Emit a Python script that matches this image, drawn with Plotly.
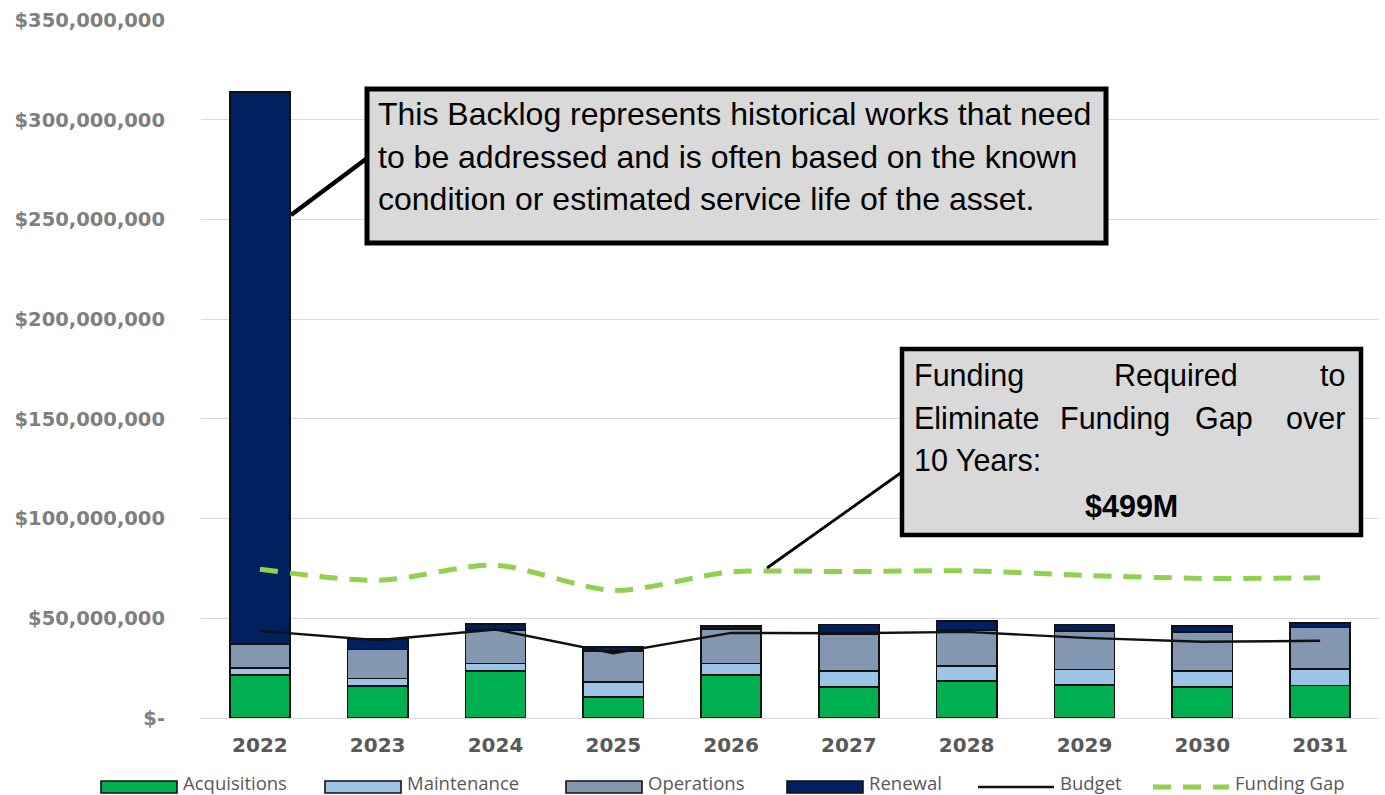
import plotly.graph_objects as go

# ---- data (values in $ millions) ----
years = ["2022", "2023", "2024", "2025", "2026", "2027", "2028", "2029", "2030", "2031"]
acquisitions = [21.6, 16.0, 23.6, 10.4, 21.6, 15.4, 18.6, 16.5, 15.4, 16.2]
maintenance = [3.6, 3.9, 3.8, 7.8, 5.8, 8.3, 7.6, 7.9, 8.2, 8.4]
operations = [11.9, 14.5, 16.7, 15.4, 17.1, 18.3, 17.9, 19.2, 19.5, 20.7]
renewal = [276.8, 5.1, 2.9, 1.9, 1.6, 4.8, 4.4, 3.2, 2.9, 2.2]
budget = [43.7, 39.0, 44.4, 32.5, 42.7, 42.5, 43.2, 40.2, 38.2, 38.7]
funding_gap = [74.6, 69.0, 76.6, 64.0, 73.2, 73.4, 73.8, 71.5, 70.0, 70.3]

tick_vals = [0, 50, 100, 150, 200, 250, 300, 350]
tick_text = ["$-", "$50,000,000", "$100,000,000", "$150,000,000", "$200,000,000",
             "$250,000,000", "$300,000,000", "$350,000,000"]

backlog_note = ["This Backlog represents historical works that need",
                "to be addressed and is often based on the known",
                "condition or estimated service life of the asset."]
gap_total = "$499M"

# ---- layout geometry ----
W, H = 1385, 795
ML, MR, MT, MB = 201, 6, 20, 77
PW, PH = W - ML - MR, H - MT - MB

def px(x):
    return (x - ML) / PW

def py(y):
    return (H - MB - y) / PH

COL_ACQ = "#00b050"
COL_MAINT = "#9dc3e6"
COL_OPS = "#8497b0"
COL_REN = "#002060"
COL_GAP = "#92d050"
EDGE = "#111111"
NOTE_FONT = dict(family="Liberation Sans, Arial", size=32, color="black")
GAP_FONT = dict(family="Liberation Sans, Arial", size=30.5, color="black")

fig = go.Figure()
for name, vals, col in [("Acquisitions", acquisitions, COL_ACQ),
                        ("Maintenance", maintenance, COL_MAINT),
                        ("Operations", operations, COL_OPS),
                        ("Renewal", renewal, COL_REN)]:
    fig.add_trace(go.Bar(x=years, y=vals, name=name,
                         marker=dict(color=col, line=dict(color=EDGE, width=1.6)),
                         showlegend=False))

fig.add_trace(go.Scatter(x=years, y=budget, name="Budget", mode="lines",
                         line=dict(color="#111111", width=2.4), showlegend=False))
fig.add_trace(go.Scatter(x=years, y=funding_gap, name="Funding Gap", mode="lines",
                         line=dict(color=COL_GAP, width=5, dash="18px,12px", shape="spline",
                                   smoothing=0.8),
                         showlegend=False))

shapes = []
annotations = []

# callout 1: backlog note
shapes.append(dict(type="line", xref="paper", yref="paper",
                   x0=px(291), y0=py(215), x1=px(366), y1=py(159),
                   line=dict(color="black", width=4.5)))
shapes.append(dict(type="rect", xref="paper", yref="paper",
                   x0=px(367), x1=px(1106), y0=py(89), y1=py(243),
                   fillcolor="#d9d9d9", line=dict(color="black", width=5)))
for i, line in enumerate(backlog_note):
    annotations.append(dict(xref="paper", yref="paper", x=px(376), y=py(114 + 42.5 * i),
                            xanchor="left", yanchor="middle", showarrow=False, text=line,
                            font=NOTE_FONT))

# callout 2: funding required (justified text, word by word)
shapes.append(dict(type="line", xref="paper", yref="paper",
                   x0=px(767), y0=py(568), x1=px(902), y1=py(472),
                   line=dict(color="black", width=2.8)))
shapes.append(dict(type="rect", xref="paper", yref="paper",
                   x0=px(902), x1=px(1361), y0=py(349), y1=py(535),
                   fillcolor="#d9d9d9", line=dict(color="black", width=4.5)))
gap_words = [("Funding", 912, 375, "left"), ("Required", 1112, 375, "left"), ("to", 1347, 375, "right"),
             ("Eliminate", 912, 418, "left"), ("Funding", 1058, 418, "left"),
             ("Gap", 1193, 418, "left"), ("over", 1347, 418, "right"),
             ("10 Years:", 912, 460, "left")]
for word, x, y, anchor in gap_words:
    annotations.append(dict(xref="paper", yref="paper", x=px(x), y=py(y), xanchor=anchor,
                            yanchor="middle", showarrow=False, text=word, font=GAP_FONT))
annotations.append(dict(xref="paper", yref="paper", x=px(1131), y=py(506), xanchor="center",
                        yanchor="middle", showarrow=False, text="<b>" + gap_total + "</b>",
                        font=GAP_FONT))

# legend row
LEG_Y = 787
legend_items = [("Acquisitions", 101, "bar", COL_ACQ), ("Maintenance", 325, "bar", COL_MAINT),
                ("Operations", 566, "bar", COL_OPS), ("Renewal", 787, "bar", COL_REN),
                ("Budget", 978, "line", "#111111"), ("Funding Gap", 1153, "dash", COL_GAP)]
for label, x, kind, col in legend_items:
    if kind == "bar":
        shapes.append(dict(type="rect", xref="paper", yref="paper",
                           x0=px(x), x1=px(x + 76), y0=py(LEG_Y - 6), y1=py(LEG_Y + 6),
                           fillcolor=col, line=dict(color=EDGE, width=1.6)))
    elif kind == "line":
        shapes.append(dict(type="line", xref="paper", yref="paper",
                           x0=px(x), x1=px(x + 76), y0=py(LEG_Y), y1=py(LEG_Y),
                           line=dict(color=col, width=2.6)))
    else:
        shapes.append(dict(type="line", xref="paper", yref="paper",
                           x0=px(x), x1=px(x + 76), y0=py(LEG_Y), y1=py(LEG_Y),
                           line=dict(color=col, width=5, dash="18px,12px")))
    annotations.append(dict(xref="paper", yref="paper", x=px(x + 81), y=py(782),
                            xanchor="left", yanchor="middle", showarrow=False, text=label,
                            borderpad=0,
                            font=dict(family="Open Sans, Noto Sans", size=18.5, color="#595959")))

fig.update_layout(
    width=W, height=H,
    margin=dict(l=ML, r=MR, t=MT, b=MB, pad=0),
    barmode="stack", bargap=0.49,
    plot_bgcolor="white", paper_bgcolor="white",
    shapes=shapes, annotations=annotations,
    showlegend=False,
)
fig.update_xaxes(type="category", range=[-0.5, 9.5], showgrid=False, showline=False,
                 ticks="", ticklabelstandoff=13,
                 tickfont=dict(family="DejaVu Sans", size=20, color="#595959", weight="bold"))
fig.update_yaxes(range=[0, 350], tickvals=tick_vals, ticktext=tick_text,
                 showgrid=True, gridcolor="#d9d9d9", gridwidth=1, zeroline=True,
                 zerolinecolor="#d9d9d9", zerolinewidth=1, showline=False, ticks="",
                 ticklabelstandoff=35,
                 tickfont=dict(family="DejaVu Sans", size=19.5, color="#7f7f7f", weight="bold"))

fig.write_html("out.html")
